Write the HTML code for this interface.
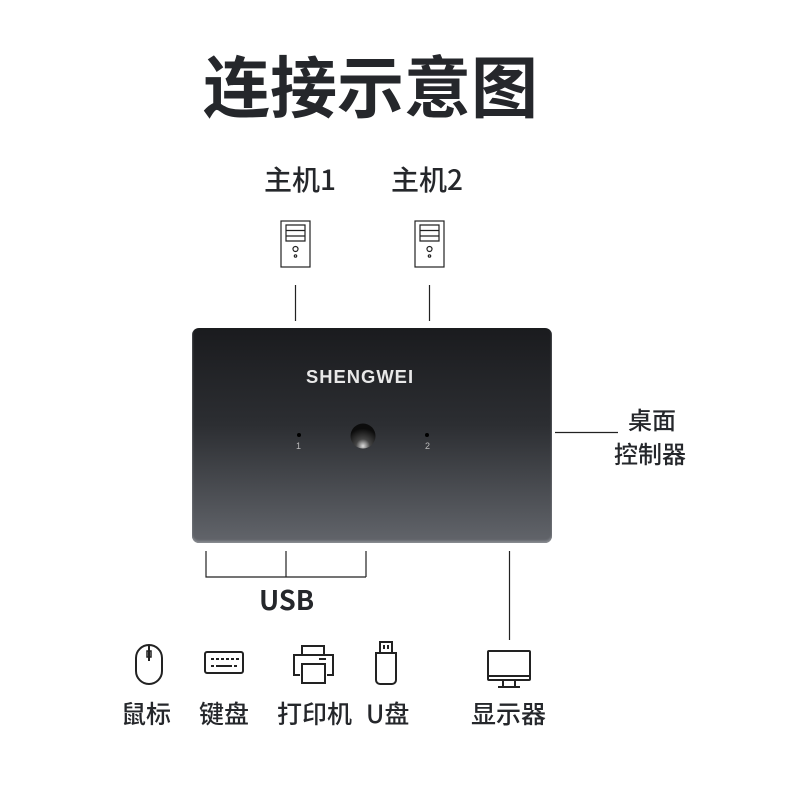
<!DOCTYPE html>
<html><head><meta charset="utf-8"><style>
body{margin:0;width:800px;height:800px;background:#fff;position:relative;overflow:hidden;font-family:"Liberation Sans","Noto Sans CJK SC",sans-serif;color:#25272b}
.t{position:absolute;white-space:nowrap;line-height:1;font-family:'Noto Sans CJK SC',sans-serif}
</style></head><body>
<div class="t" style="left:203px;top:50px;font-size:67px;font-weight:bold">连接示意图</div>
<div class="t" style="left:264px;top:165px;font-size:28px;font-weight:500">主机1</div>
<div class="t" style="left:391px;top:165px;font-size:28px;font-weight:500">主机2</div>
<div class="t" style="left:628px;top:407px;font-size:24px;font-weight:500">桌面</div>
<div class="t" style="left:614px;top:441px;font-size:24px;font-weight:500">控制器</div>
<div class="t" style="left:259px;top:585px;font-size:27px;font-weight:bold">USB</div>
<div class="t" style="left:121px;top:701px;font-size:25px;font-weight:500">鼠标</div>
<div class="t" style="left:199px;top:701px;font-size:25px;font-weight:500">键盘</div>
<div class="t" style="left:277px;top:701px;font-size:25px;font-weight:500">打印机</div>
<div class="t" style="left:366px;top:701px;font-size:25px;font-weight:500">U盘</div>
<div class="t" style="left:471px;top:701px;font-size:25px;font-weight:500">显示器</div>
<div style="position:absolute;left:192px;top:328px;width:360px;height:215px;border-radius:7px;background:linear-gradient(180deg,#1a1b1e 0%,#2c2e32 45%,#62656b 100%);box-shadow:inset 0 -2px 2px #8a8d92"></div>
<div class="t" style="left:307px;top:368px;font-size:18px;color:#e8e8e8;letter-spacing:1px;font-family:'Liberation Sans',sans-serif;font-weight:bold;transform:scaleX(1.02)">SHENGWEI</div>
<div class="t" style="left:296px;top:442px;font-size:9px;color:#bbb;font-family:'Liberation Sans',sans-serif">1</div>
<div class="t" style="left:425px;top:442px;font-size:9px;color:#bbb;font-family:'Liberation Sans',sans-serif">2</div>
<svg width="800" height="800" style="position:absolute;left:0;top:0" fill="none" stroke="#222" stroke-width="1.5">
<defs><radialGradient id="b" cx="0.5" cy="0.9" r="0.7"><stop offset="0" stop-color="#ddd"/><stop offset="0.4" stop-color="#444"/><stop offset="1" stop-color="#0c0c0c"/></radialGradient></defs>
<circle cx="363" cy="436" r="12.5" fill="url(#b)" stroke="none"/>
<circle cx="299" cy="435" r="2" fill="#000" stroke="none"/>
<circle cx="427" cy="435" r="2" fill="#000" stroke="none"/>
<g stroke-width="1.2">
<rect x="281" y="221" width="29" height="46"/><path d="M286 225h19v16h-19zM286 230.5h19M286 236h19"/><circle cx="295.5" cy="249" r="2.5"/><circle cx="295.5" cy="256" r="1.2"/>
<rect x="415" y="221" width="29" height="46"/><path d="M420 225h19v16h-19zM420 230.5h19M420 236h19"/><circle cx="429.5" cy="249" r="2.5"/><circle cx="429.5" cy="256" r="1.2"/>
<path d="M295.5 285v36M429.5 285v36M555 432.5h63M206 551v26h160M286 551v26M366 551v26M509.5 551v89"/>
</g>
<g stroke-width="2">
<rect x="136" y="645" width="26" height="39" rx="13"/><path d="M149 645v16"/><rect x="147" y="651" width="4" height="6" stroke-width="1.5"/>
<rect x="205" y="652" width="38" height="21" rx="2"/><path d="M211 659h3M216 659h3M221 659h3M226 659h3M231 659h3M236 659h3M211 666h3M216 666h16M234 666h3"/>
<path d="M302 654v-8h22v8M300 675h-6v-20h39v20h-6M302 664h23v19h-23z"/><path d="M319 659h7"/>
<path d="M380 642h12v11h-12zM384 645v4M388 645v4M376 653h20v27a4 4 0 0 1-4 4h-12a4 4 0 0 1-4-4z"/>
<rect x="488" y="651" width="42" height="29" rx="1"/><path d="M488 676h42M503 681v5M515 681v5M498 687h22"/>
</g>
</svg>
</body></html>
